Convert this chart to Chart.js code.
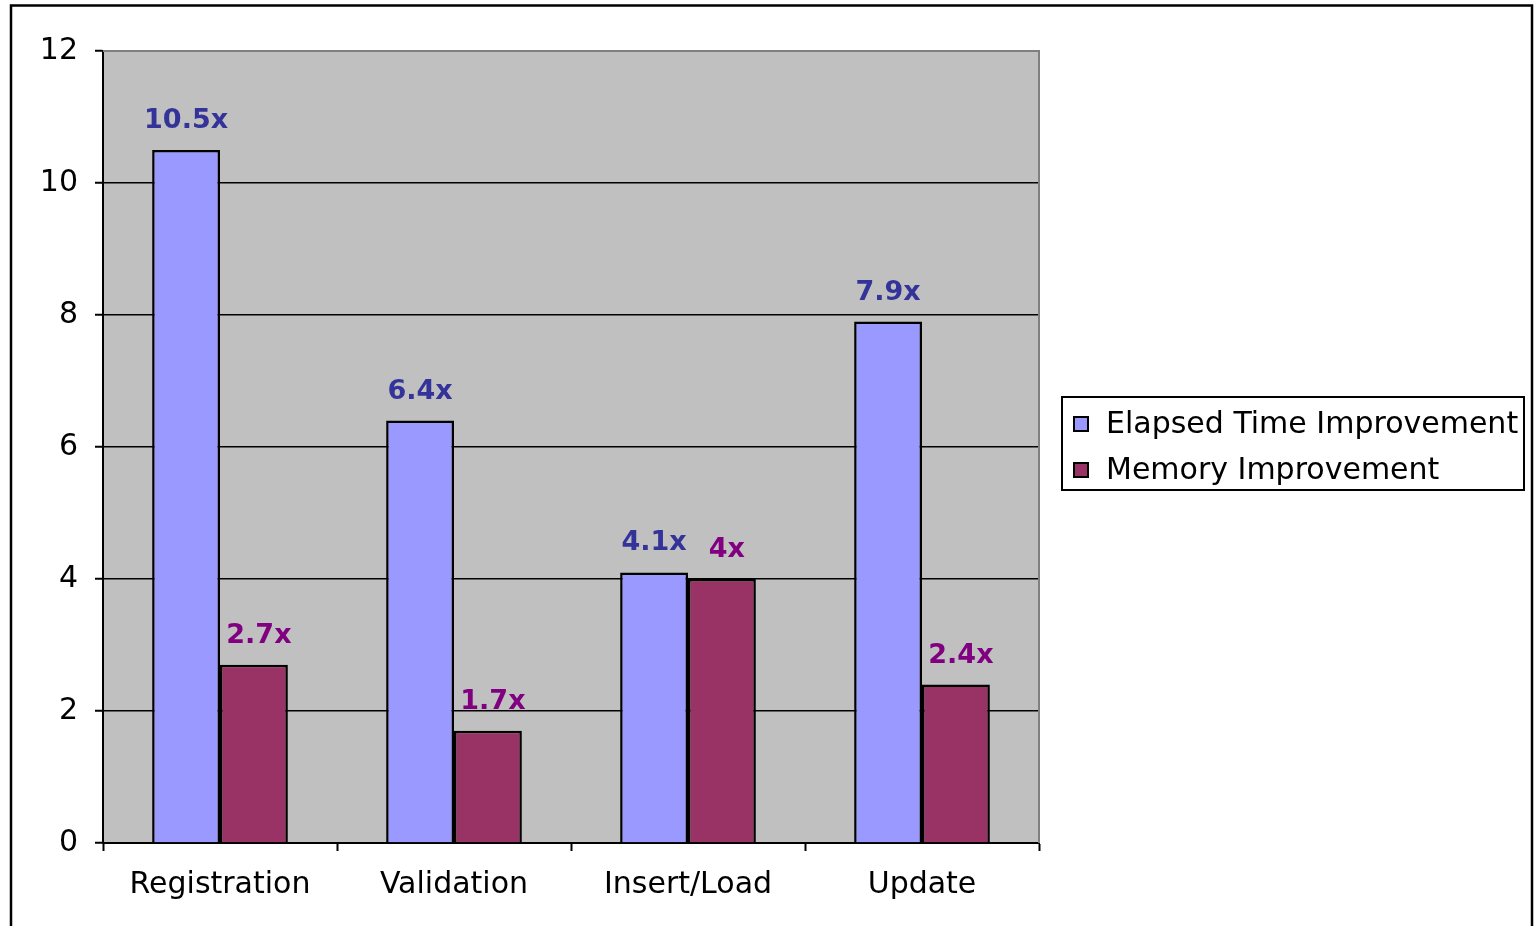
<!DOCTYPE html>
<html>
<head>
<meta charset="utf-8">
<script src="https://cdn.jsdelivr.net/npm/chart.js@4.4.1/dist/chart.umd.min.js"></script>
<style>
  html, body { margin: 0; padding: 0; background: #fff; overflow: hidden; }
  #wrap { width: 1534px; height: 926px; position: relative; }
</style>
</head>
<body>
<div id="wrap"><canvas id="bars"></canvas></div>
<script>
var categories = ['Registration', 'Validation', 'Insert/Load', 'Update'];
var elapsedTime = [10.5, 6.4, 4.1, 7.9];
var memory = [2.7, 1.7, 4, 2.4];
var seriesNames = ['Elapsed Time Improvement', 'Memory Improvement'];
var yTicks = [0, 2, 4, 6, 8, 10, 12];

var FONT = "'DejaVu Sans', sans-serif";
var labelColors = ['#333399', '#800080'];

// gray plot area + gray top/right edge
var plotBackground = {
  id: 'plotBackground',
  beforeDraw: function(chart) {
    var a = chart.chartArea, ctx = chart.ctx;
    ctx.save();
    ctx.fillStyle = '#C0C0C0';
    ctx.fillRect(a.left, a.top, a.right - a.left, a.bottom - a.top);
    ctx.restore();
  },
  beforeDatasetsDraw: function(chart) {
    var a = chart.chartArea, ctx = chart.ctx;
    ctx.save();
    ctx.strokeStyle = '#808080';
    ctx.lineWidth = 2;
    ctx.beginPath();
    ctx.moveTo(a.left, a.top);
    ctx.lineTo(a.right, a.top);
    ctx.lineTo(a.right, a.bottom);
    ctx.stroke();
    ctx.restore();
  }
};

// "10.5x" style labels above bars
var valueLabels = {
  id: 'valueLabels',
  afterDatasetsDraw: function(chart) {
    var ctx = chart.ctx;
    ctx.save();
    ctx.font = 'bold 27px ' + FONT;
    ctx.textAlign = 'center';
    ctx.textBaseline = 'middle';
    chart.data.datasets.forEach(function(ds, di) {
      var meta = chart.getDatasetMeta(di);
      ctx.fillStyle = labelColors[di];
      meta.data.forEach(function(bar, i) {
        var shift = di === 1 ? 5 : 0;
        ctx.fillText(ds.data[i] + 'x', bar.x + shift, bar.y - 29);
      });
    });
    ctx.restore();
  }
};

// boxed legend on the right and the outer frame
var sideLegend = {
  id: 'sideLegend',
  afterDraw: function(chart) {
    var ctx = chart.ctx, a = chart.chartArea;
    var left = a.right + 23, top = 397, w = 462, h = 93;
    ctx.save();
    ctx.strokeStyle = '#000';
    ctx.lineWidth = 2;
    ctx.strokeRect(left, top, w, h);
    ctx.font = '30px ' + FONT;
    ctx.textBaseline = 'middle';
    ctx.textAlign = 'left';
    chart.data.datasets.forEach(function(ds, i) {
      var cy = top + 27 + i * 46;
      ctx.fillStyle = ds.backgroundColor;
      ctx.fillRect(left + 12, cy - 7, 14, 14);
      ctx.lineWidth = 2;
      ctx.strokeRect(left + 12, cy - 7, 14, 14);
      ctx.fillStyle = '#000';
      ctx.fillText(ds.label, left + 44, cy + 1);
    });
    ctx.lineWidth = 2.5;
    ctx.strokeRect(11, 5.5, 1521, 940);
    ctx.restore();
  }
};

new Chart(document.getElementById('bars').getContext('2d'), {
  type: 'bar',
  data: {
    labels: categories,
    datasets: [{
      label: seriesNames[0],
      data: elapsedTime,
      backgroundColor: '#9999FF',
      borderColor: '#000',
      borderWidth: 2.5
    }, {
      label: seriesNames[1],
      data: memory,
      backgroundColor: '#993366',
      borderColor: '#000',
      borderWidth: 2.5
    }]
  },
  options: {
    responsive: true,
    maintainAspectRatio: false,
    animation: false,
    layout: { padding: { top: 51, right: 495, left: 0, bottom: 0 } },
    plugins: {
      legend: { display: false },
      tooltip: { enabled: false }
    },
    datasets: {
      bar: { categoryPercentage: 0.58, barPercentage: 1.0 }
    },
    scales: {
      x: {
        grid: {
          drawOnChartArea: false,
          drawTicks: true,
          tickLength: 8,
          tickColor: '#000',
          tickWidth: 2,
          offset: true
        },
        border: { color: '#000', width: 2 },
        ticks: {
          color: '#000',
          font: { family: FONT, size: 30 },
          padding: 16,
          maxRotation: 0
        },
        afterFit: function(scale) { scale.height = 83; }
      },
      y: {
        min: 0,
        max: 12,
        afterBuildTicks: function(scale) {
          scale.ticks = yTicks.map(function(v) { return { value: v }; });
        },
        grid: {
          color: function(c) { return c.tick && c.tick.value === 12 ? '#808080' : '#000'; },
          lineWidth: 1.5,
          tickLength: 8,
          tickColor: '#000',
          tickWidth: 2
        },
        border: { color: '#000', width: 2 },
        ticks: {
          color: '#000',
          font: { family: FONT, size: 30 },
          padding: 17
        },
        afterFit: function(scale) { scale.width = 103; }
      }
    }
  },
  plugins: [plotBackground, valueLabels, sideLegend]
});
</script>
</body>
</html>
